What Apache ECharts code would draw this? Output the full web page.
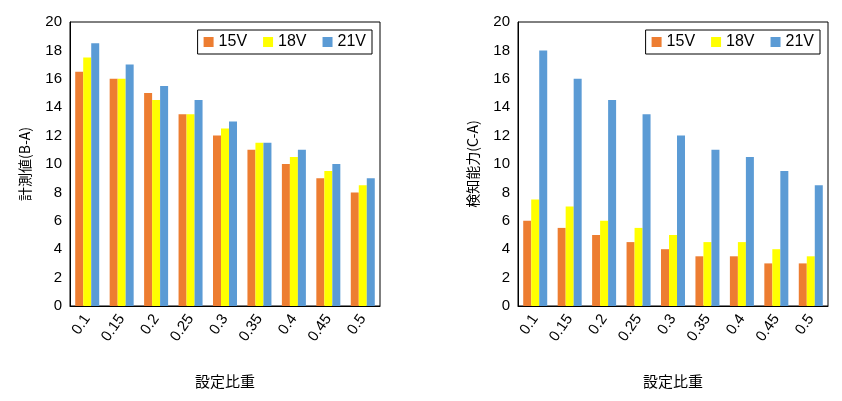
<!DOCTYPE html>
<html><head><meta charset="utf-8">
<script src="https://cdn.jsdelivr.net/npm/echarts@6/dist/echarts.min.js"></script>
<style>html,body{margin:0;background:#fff}#c{width:842px;height:401px}</style>
</head><body><div id="c"></div>
<script>
const categories=['0.1','0.15','0.2','0.25','0.3','0.35','0.4','0.45','0.5'];
const seriesNames=['15V','18V','21V'];
const leftV15=[16.5,16,15,13.5,12,11,10,9,8];
const leftV18=[17.5,16,14.5,13.5,12.5,11.5,10.5,9.5,8.5];
const leftV21=[18.5,17,15.5,14.5,13,11.5,11,10,9];
const rightV15=[6,5.5,5,4.5,4,3.5,3.5,3,3];
const rightV18=[7.5,7,6,5.5,5,4.5,4.5,4,3.5];
const rightV21=[18,16,14.5,13.5,12,11,10.5,9.5,8.5];
const colors=['#ED7D31','#FFFF00','#5B9BD5'];
const font='Noto Sans CJK JP';
const grids=[{left:70,width:310,top:22,height:284},{left:518,width:310,top:22,height:284}];
function xa(i){return {type:'category',gridIndex:i,data:categories,name:'設定比重',nameLocation:'middle',nameGap:68,
 nameTextStyle:{fontFamily:font,fontSize:15,color:'#000'},
 axisLine:{lineStyle:{color:'#000'}},axisTick:{show:false},
 axisLabel:{rotate:55,fontFamily:'Liberation Sans',fontSize:15,color:'#000',margin:10}};}
function ya(i,n){return {type:'value',gridIndex:i,min:0,max:20,interval:2,name:n,nameLocation:'middle',nameGap:38,
 nameTextStyle:{fontFamily:font,fontSize:14,color:'#000'},
 axisLine:{show:true,lineStyle:{color:'#000'}},axisTick:{show:false},splitLine:{show:false},
 axisLabel:{fontFamily:'Liberation Sans',fontSize:15,color:'#000'}};}
const data=[[leftV15,leftV18,leftV21],[rightV15,rightV18,rightV21]];
const series=[];
for(let g=0;g<2;g++)for(let s=0;s<3;s++)series.push({type:'bar',name:seriesNames[s],xAxisIndex:g,yAxisIndex:g,
 data:data[g][s],itemStyle:{color:colors[s]},barWidth:8,barGap:'0%'});
const chart=echarts.init(document.getElementById('c'));
chart.setOption({animation:false,
 graphic:grids.map(g=>({type:'rect',shape:{x:g.left,y:g.top,width:g.width,height:g.height},style:{fill:'none',stroke:'#000',lineWidth:1},silent:true})),
 grid:grids,xAxis:[xa(0),xa(1)],yAxis:[ya(0,'計測値(B-A)'),ya(1,'検知能力(C-A)')],
 legend:[0,1].map(i=>({data:seriesNames,top:30,right:842-grids[i].left-grids[i].width+8,itemWidth:10,itemHeight:10,itemGap:16,icon:'rect',
  borderColor:'#000',borderWidth:1,padding:[4,6],textStyle:{fontFamily:'Liberation Sans',fontSize:16,color:'#000'}})),
 series});
</script></body></html>
